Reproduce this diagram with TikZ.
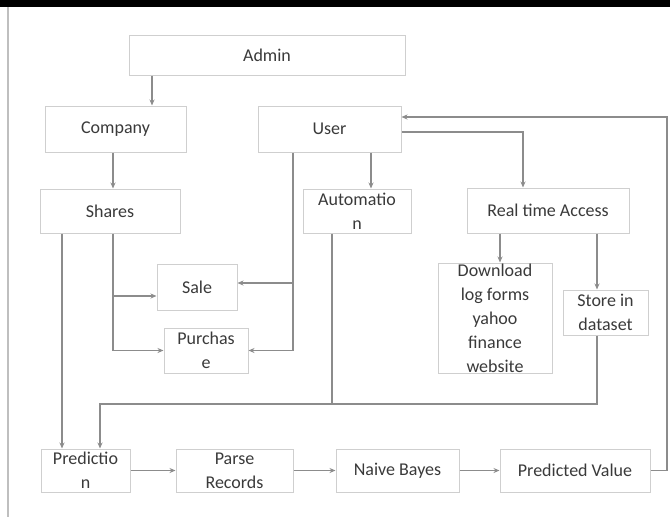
\documentclass[tikz,border=0pt]{standalone}
\usepackage{fontspec}
\setmainfont{Carlito}
\usetikzlibrary{arrows.meta}
\definecolor{boxc}{HTML}{CFCFCF}
\definecolor{linec}{HTML}{8C8C8C}
\definecolor{txt}{HTML}{3A3A3A}
\begin{document}
\begin{tikzpicture}[x=1pt,y=-1pt,
  box/.style={draw=boxc, line width=1pt, rectangle, inner sep=0pt, align=center, text=txt, font=\fontsize{18}{24}\selectfont},
  ln/.style={draw=linec, line width=1.2pt},
  arr/.style={ln, -{Stealth[length=6pt,width=5pt]}}]
\useasboundingbox (0,0) rectangle (670,517);
\fill[white] (0,0) rectangle (670,517);
\fill[black] (0,0) rectangle (670,7);
\draw[black!25, line width=1.5pt] (8,7) -- (8,517);

\node[box, minimum width=276pt, minimum height=40pt] (admin) at (267,55) {Admin};
\node[box, minimum width=141pt, minimum height=46pt] (company) at (115.5,129) {Company};
\node[box, minimum width=143pt, minimum height=46pt] (user) at (329.5,129) {User};
\node[box, minimum width=140pt, minimum height=44pt] (shares) at (110,211) {Shares};
\node[box, minimum width=108pt, minimum height=44pt] (auto) at (357,211) {Automatio\\n};
\node[box, minimum width=162pt, minimum height=45pt] (rta) at (548,210.5) {Real time Access};
\node[box, minimum width=80pt, minimum height=46pt] (sale) at (197,287) {Sale};
\node[box, minimum width=84pt, minimum height=45pt] (purchase) at (206,350.5) {Purchas\\e};
\node[box, minimum width=114pt, minimum height=110pt] (dl) at (495,318) {Download\\log forms\\yahoo\\finance\\website};
\node[box, minimum width=85pt, minimum height=45pt] (store) at (605.5,312.5) {Store in\\dataset};
\node[box, minimum width=89pt, minimum height=43pt] (pred) at (85.5,470.5) {Predictio\\n};
\node[box, minimum width=117pt, minimum height=43pt] (parse) at (234.5,470.5) {Parse\\Records};
\node[box, minimum width=123pt, minimum height=43pt] (naive) at (397.5,470.5) {Naive Bayes};
\node[box, minimum width=150pt, minimum height=43pt] (predv) at (575,470.5) {Predicted Value};

\coordinate (xa) at (152,0);
\coordinate (xb) at (113,0);
\coordinate (ys) at (0,296);
\coordinate (xu) at (293,0);
\coordinate (yu) at (0,283);
\coordinate (xau) at (371,0);
\coordinate (yr) at (0,132);
\coordinate (xr) at (523,0);
\coordinate (xd) at (500,0);
\coordinate (xs) at (597,0);
\coordinate (yh) at (0,404);
\coordinate (xp) at (100,0);
\coordinate (xauto) at (332,0);
\coordinate (xl) at (62,0);
\coordinate (xr2) at (667,0);
\coordinate (yt) at (0,117);

\draw[arr] (admin.south -| xa) -- (company.north -| xa);
\draw[arr] (company.south -| xb) -- (shares.north -| xb);
\draw[arr] (shares.south -| xb) |- (purchase.west);
\draw[arr] (xb |- ys) -- (sale.west |- ys);
\draw[arr] (user.south -| xu) |- (purchase.east);
\draw[arr] (xu |- yu) -- (sale.east |- yu);
\draw[arr] (user.south -| xau) -- (auto.north -| xau);
\draw[arr] (user.east |- yr) -| (rta.north -| xr);
\draw[arr] (rta.south -| xd) -- (dl.north -| xd);
\draw[arr] (rta.south -| xs) -- (store.north -| xs);
\draw[arr] (store.south -| xs) |- (xp |- yh) -- (pred.north -| xp);
\draw[ln] (auto.south -| xauto) -- (xauto |- yh);
\draw[arr] (shares.south -| xl) -- (pred.north -| xl);
\draw[arr] (pred) -- (parse);
\draw[arr] (parse) -- (naive);
\draw[arr] (naive) -- (predv);
\draw[arr] (predv.east) -| (xr2 |- yt) -- (user.east |- yt);
\end{tikzpicture}
\end{document}
